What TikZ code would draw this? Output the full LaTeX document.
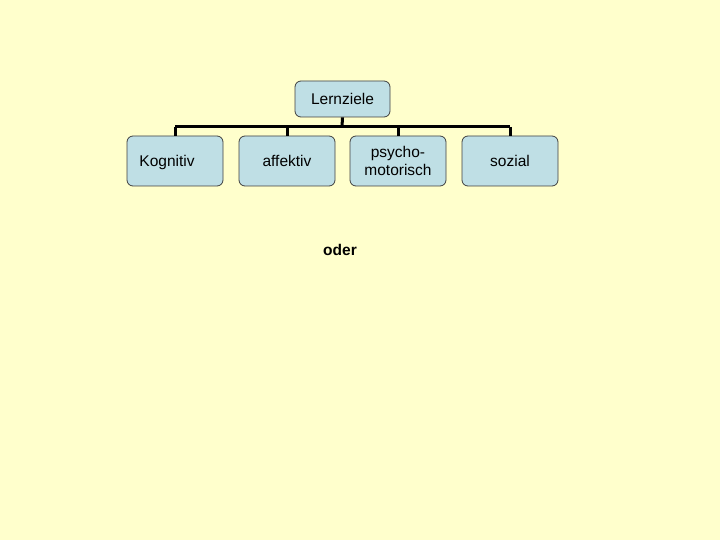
\documentclass[tikz,border=0pt]{standalone}
\usepackage{fontspec}
\setmainfont{Liberation Sans}
\definecolor{bg}{HTML}{FFFFCC}
\definecolor{boxfill}{HTML}{BFDFE5}
\definecolor{boxline}{HTML}{404040}
\begin{document}
\begin{tikzpicture}[x=1pt,y=-1pt,
  lbl/.style={font=\fontsize{15.5}{18}\selectfont,inner sep=0pt,align=center},
  orgbox/.style={lbl,draw=boxline,fill=boxfill,rounded corners=6pt,line width=0.8pt,
    minimum width=96pt,minimum height=50pt},
  conn/.style={line width=3pt,black}]
\fill[bg] (0,0) rectangle (720,540);
\useasboundingbox (0,0) rectangle (720,540);
\node[orgbox,minimum width=95pt,minimum height=36pt] (root) at (342.5,99) {Lernziele};
\node[orgbox] (k) at (175,161) {};
\node[orgbox] (a) at (287,161) {affektiv};
\node[lbl,anchor=base,xshift=-120pt] (kt) at (a.base) {Kognitiv};
\node[orgbox] (p) at (398,161) {psycho-\\motorisch};
\node[orgbox] (s) at (510,161) {sozial};
\coordinate (bar) at (342,127);
\coordinate (bl) at (175,127);
\coordinate (br) at (510,127);
\draw[conn] (root.south) -- (bar);
\draw[conn] (bl) -- (br);
\foreach \c in {k,a,p,s} \draw[conn] (\c.north |- bar) -- (\c.north);
\node[lbl,font=\bfseries\fontsize{15.5}{18}\selectfont] (oder) at (340,250) {oder};
\end{tikzpicture}
\end{document}
